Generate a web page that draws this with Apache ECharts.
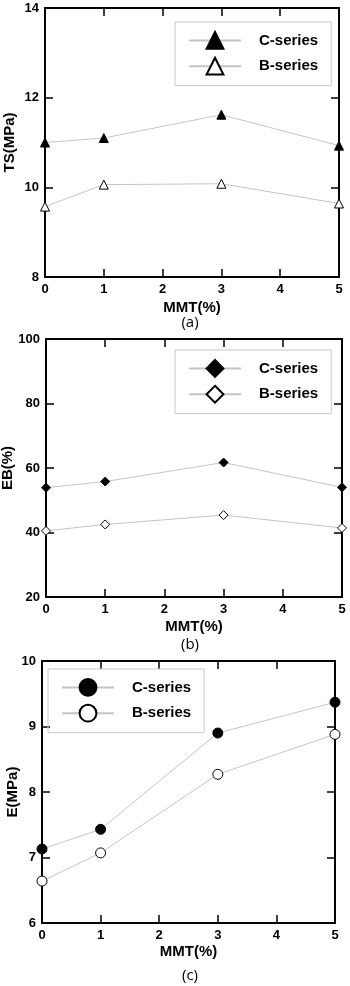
<!DOCTYPE html>
<html>
<head>
<meta charset="utf-8">
<script src="https://cdn.jsdelivr.net/npm/echarts@6/dist/echarts.min.js"></script>
<style>
  html, body { margin: 0; padding: 0; background: #fff; }
</style>
</head>
<body>
<div id="chart" style="width: 350px;height:986px;"></div>
<script>
  // MMT含量 (x)
  var mmt = [0, 1, 3, 5]
  // (a) 拉伸强度 TS(MPa)
  var tsC = [11.0, 11.1, 11.62, 10.93]
  var tsB = [9.57, 10.06, 10.08, 9.64]
  // (b) 断裂伸长率 EB(%)
  var ebC = [53.9, 55.8, 61.7, 54.0]
  var ebB = [40.5, 42.5, 45.4, 41.4]
  // (c) 模量 E(MPa)
  var eC = [7.13, 7.43, 8.9, 9.37]
  var eB = [6.64, 7.07, 8.27, 8.88]

  var FONT = '"Liberation Sans", Arial, sans-serif'
  var lineGray = '#c4c4c4'

  function pts(ys) {
    return mmt.map(function (x, i) { return [x, ys[i]] })
  }

  // 三个子图的位置
  var grids = [
    { left: 45, top: 8, width: 294, height: 269, outerBoundsMode: 'none' },
    { left: 46, top: 339, width: 296, height: 258, outerBoundsMode: 'none' },
    { left: 42, top: 661, width: 293, height: 262, outerBoundsMode: 'none' }
  ]
  var yCfg = [
    { name: 'TS(MPa)', min: 8, max: 14, interval: 2, nameGap: 28 },
    { name: 'EB(%)', min: 20, max: 100, interval: 20, nameGap: 31 },
    { name: 'E(MPa)', min: 6, max: 10, interval: 1, nameGap: 22 }
  ]
  var xNameGap = [23, 22, 21]

  var axisLine = { show: true, onZero: false, lineStyle: { color: '#000', width: 2 } }
  var tick = { show: true, inside: true, length: 8, lineStyle: { color: '#000', width: 1.5 } }
  var label = { color: '#000', fontFamily: FONT, fontWeight: 'bold', fontSize: 13 }
  var nameStyle = { color: '#000', fontFamily: FONT, fontWeight: 'bold', fontSize: 15 }

  var xAxis = []
  var yAxis = []
  grids.forEach(function (g, i) {
    xAxis.push({
      gridIndex: i, type: 'value', position: 'bottom', min: 0, max: 5, interval: 1,
      name: 'MMT(%)', nameLocation: 'middle', nameGap: xNameGap[i], nameTextStyle: nameStyle,
      nameMoveOverlap: false,
      axisLine: axisLine, axisTick: tick, splitLine: { show: false },
      axisLabel: Object.assign({ margin: 6 }, label)
    })
    xAxis.push({
      gridIndex: i, type: 'value', position: 'top', min: 0, max: 5, interval: 1,
      axisLine: axisLine, axisTick: tick, splitLine: { show: false }, axisLabel: { show: false }
    })
    var c = yCfg[i]
    yAxis.push({
      gridIndex: i, type: 'value', position: 'left', min: c.min, max: c.max, interval: c.interval,
      name: c.name, nameLocation: 'middle', nameGap: c.nameGap, nameRotate: 90, nameTextStyle: nameStyle,
      nameMoveOverlap: false,
      axisLine: axisLine, axisTick: tick, splitLine: { show: false },
      axisLabel: Object.assign({ margin: 6 }, label)
    })
    yAxis.push({
      gridIndex: i, type: 'value', position: 'right', min: c.min, max: c.max, interval: c.interval,
      axisLine: axisLine, axisTick: tick, splitLine: { show: false }, axisLabel: { show: false }
    })
  })

  // 每个子图两条线：C实心，B空心
  var panels = [
    { key: 'a', sym: 'triangle', size: 9, c: tsC, b: tsB },
    { key: 'b', sym: 'diamond', size: 9, c: ebC, b: ebB },
    { key: 'c', sym: 'circle', size: 10, c: eC, b: eB }
  ]
  var series = []
  panels.forEach(function (p, i) {
    series.push({
      name: p.key + '|C-series', type: 'line', xAxisIndex: i * 2, yAxisIndex: i * 2,
      data: pts(p.c), symbol: p.sym, symbolSize: p.size,
      lineStyle: { color: lineGray, width: 1 },
      itemStyle: { color: '#000', borderColor: '#000', borderWidth: 1 }
    })
    series.push({
      name: p.key + '|B-series', type: 'line', xAxisIndex: i * 2, yAxisIndex: i * 2,
      data: pts(p.b), symbol: p.sym, symbolSize: p.size,
      lineStyle: { color: lineGray, width: 1 },
      itemStyle: { color: '#fff', borderColor: '#000', borderWidth: 1 }
    })
  })

  var legendPos = [
    { left: 175, top: 22 },
    { left: 175, top: 350 },
    { left: 48, top: 669 }
  ]
  var legend = panels.map(function (p, i) {
    return {
      orient: 'vertical', left: legendPos[i].left, top: legendPos[i].top,
      data: [p.key + '|C-series', p.key + '|B-series'],
      formatter: function (n) { return n.split('|')[1] },
      itemWidth: 52, itemHeight: 21, itemGap: 7,
      padding: [9, 13, 10, 13],
      borderColor: '#c8c8c8', borderWidth: 1, borderRadius: 0,
      textStyle: { color: '#000', fontFamily: FONT, fontWeight: 'bold', fontSize: 15, padding: [0, 0, 0, 13] }
    }
  })

  var captionTop = [315, 637, 968]
  var title = ['(a)', '(b)', '(c)'].map(function (t, i) {
    return {
      text: t, left: 190, top: captionTop[i], textAlign: 'center', padding: 0,
      textStyle: { color: '#000', fontFamily: '"Open Sans", sans-serif', fontWeight: 'normal', fontSize: 15 }
    }
  })

  var chart = echarts.init(document.getElementById('chart'))
  chart.setOption({
    animation: false,
    title: title,
    legend: legend,
    grid: grids,
    xAxis: xAxis,
    yAxis: yAxis,
    series: series
  })
</script>
</body>
</html>
